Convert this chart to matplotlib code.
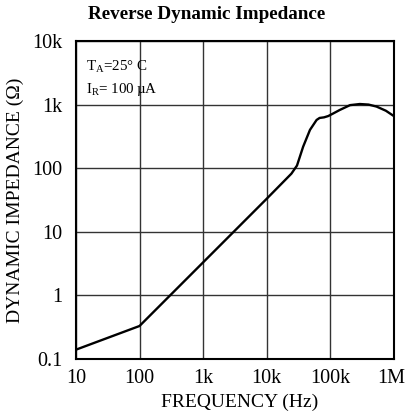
import matplotlib
matplotlib.use("Agg")
import matplotlib.pyplot as plt
import matplotlib.transforms as mtransforms
from matplotlib.ticker import FixedLocator, FixedFormatter, NullLocator

plt.rcParams['font.family'] = ['Liberation Serif', 'DejaVu Serif']

freq = [10, 100, 1000, 10000, 24500, 30000, 37500, 48000, 61000, 68000, 80000,
        93000, 110000, 141000, 205000, 292000, 400000, 535000, 750000, 1000000]
imp = [0.14, 0.33, 3.3, 33, 82, 110, 218, 400, 573, 616, 630,
       660, 720, 822, 980, 1020, 1000, 930, 800, 660]

xticks = [10, 100, 1e3, 1e4, 1e5, 1e6]
xlabels = ['10', '100', '1k', '10k', '100k', '1M']
yticks = [0.1, 1, 10, 100, 1e3, 1e4]
ylabels = ['0.1', '1', '10', '100', '1k', '10k']

fig = plt.figure(figsize=(4.06, 4.13), dpi=100)
ax = fig.add_axes([0.187, 0.1308, 0.783, 0.77])
ax.set_xscale('log')
ax.set_yscale('log')
ax.set_xlim(10, 1e6)
ax.set_ylim(0.1, 1e4)
ax.plot(freq, imp, color='black', lw=1.7)

ax.xaxis.set_major_locator(FixedLocator(xticks))
ax.xaxis.set_major_formatter(FixedFormatter(xlabels))
ax.yaxis.set_major_locator(FixedLocator(yticks))
ax.yaxis.set_major_formatter(FixedFormatter(ylabels))
ax.xaxis.set_minor_locator(NullLocator())
ax.yaxis.set_minor_locator(NullLocator())
ax.tick_params(length=0, labelsize=14.5)
ax.tick_params(axis='x', pad=7.5)
ax.tick_params(axis='y', pad=9.5)
ax.grid(True, color='#333333', lw=1.0)
for s in ax.spines.values():
    s.set_linewidth(1.5)

fig.canvas.draw()
last = ax.get_xticklabels()[-1]
last.set_transform(last.get_transform() +
                   mtransforms.ScaledTranslation(-3 / 100, 0, fig.dpi_scale_trans))

fig.text(0.589, 0.0145, 'FREQUENCY (Hz)', ha='center', va='baseline', fontsize=14)
fig.text(0.039, 0.516, 'DYNAMIC IMPEDANCE (Ω)', ha='center', va='center',
         fontsize=14, rotation=90)
fig.text(0.509, 0.966, 'Reverse Dynamic Impedance', ha='center', va='center',
         fontsize=13.8, fontweight='bold')
ax.text(0.031, 0.909, r'T$_{\mathregular{A}}$=25° C', transform=ax.transAxes,
        fontsize=10.8, va='baseline', ha='left')
ax.text(0.031, 0.836, 'I$_{\\mathregular{R}}$= 100\u2009µA', transform=ax.transAxes,
        fontsize=10.8, va='baseline', ha='left')

fig.savefig('out.png', dpi=100)
